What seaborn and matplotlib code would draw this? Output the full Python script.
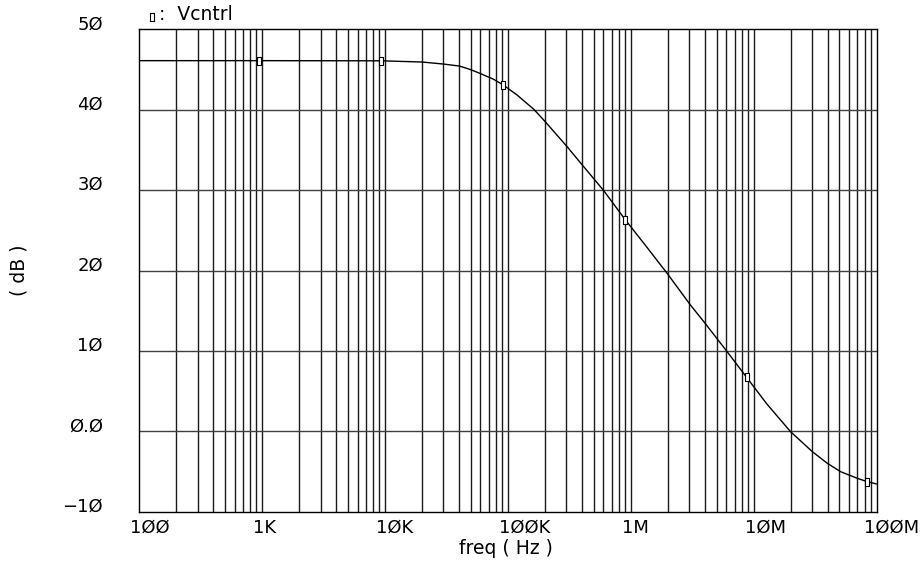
import matplotlib
matplotlib.use("Agg")
import matplotlib.pyplot as plt
import matplotlib.transforms as mtransforms
from matplotlib.ticker import FixedLocator, NullFormatter
import seaborn as sns
import pandas as pd

# ---- data ----
freq_hz = [100, 948, 9.35e3, 2.01e4, 2.99e4, 4.04e4, 4.96e4, 5.98e4, 7.63e4, 9.2e4,
           1.19e5, 1.63e5, 2.02e5, 3.04e5, 4.15e5, 6.04e5, 9.07e5, 1.28e6, 1.98e6,
           3.07e6, 3.94e6, 6.03e6, 8.77e6, 1.29e7, 2.0e7, 3.01e7, 3.98e7, 5.1e7,
           6.98e7, 8.43e7, 1.0e8]
gain_db = [46.1, 46.1, 46.08, 45.93, 45.68, 45.43, 45.0, 44.5, 43.8, 43.07,
           41.83, 40.05, 38.5, 35.40, 32.91, 29.93, 26.28, 23.38, 19.65,
           15.69, 13.63, 9.99, 6.72, 3.35, -0.05, -2.54, -3.98, -5.02,
           -5.85, -6.27, -6.55]
marker_freq = [948, 9.35e3, 9.2e4, 9.07e5, 8.77e6, 8.43e7]
marker_db = [46.1, 46.08, 43.07, 26.28, 6.72, -6.27]

x_ticks = [1e2, 1e3, 1e4, 1e5, 1e6, 1e7, 1e8]
x_tick_labels = ["1ØØ", "1K", "1ØK", "1ØØK", "1M", "1ØM", "1ØØM"]
y_ticks = [-10, 0, 10, 20, 30, 40, 50]
y_tick_labels = ["\u22121Ø", "Ø.Ø", "1Ø", "2Ø", "3Ø", "4Ø", "5Ø"]
series_name = "Vcntrl"
x_label = "freq ( Hz )"
y_label = "( dB )"

sns.set_style("white")
plt.rcParams["font.family"] = ["DejaVu Sans"]
FS = 13.5
TFS = 13

fig = plt.figure(figsize=(9.24, 5.65), dpi=100)
ax = fig.add_axes([139 / 924, 1 - 511.7 / 565, (876.5 - 139) / 924, (511.7 - 29.3) / 565])

df = pd.DataFrame({"freq": freq_hz, "gain": gain_db})
mk = pd.DataFrame({"freq": marker_freq, "gain": marker_db})

ax.set_xscale("log")
ax.set_xlim(1e2, 1e8)
ax.set_ylim(-10, 50)

# grid: vertical at every 1..9 x decade, horizontal at major ticks
minor_x = [m * 10 ** d for d in range(2, 8) for m in range(2, 10)]
for xv in x_ticks[1:-1] + minor_x:
    ax.axvline(xv, color="#1a1a1a", lw=1.0, zorder=1)
for yv in y_ticks[1:-1]:
    ax.axhline(yv, color="#404040", lw=1.0, zorder=1)

sns.lineplot(data=df, x="freq", y="gain", ax=ax, color="black", lw=1.0,
             sort=False, zorder=3, legend=False)
rect = [(-1, -2.3), (1, -2.3), (1, 2.3), (-1, 2.3), (-1, -2.3)]
ax.plot(mk["freq"], mk["gain"], ls="none", marker=rect, ms=6, mfc="white",
        mec="black", mew=0.8, zorder=4)

# ticks
ax.xaxis.set_major_locator(FixedLocator(x_ticks))
ax.set_xticklabels(x_tick_labels)
ax.xaxis.set_minor_locator(FixedLocator([]))
ax.xaxis.set_minor_formatter(NullFormatter())
ax.tick_params(axis="x", which="both", length=0, pad=5, labelsize=TFS, labelcolor="black")
xlabs = ax.get_xticklabels()
for i, lab in enumerate(xlabs):
    lab.set_horizontalalignment("left")
    shift = -13 if i == len(xlabs) - 1 else -9
    lab.set_transform(lab.get_transform() +
                      mtransforms.ScaledTranslation(shift / 100, 0, fig.dpi_scale_trans))

ax.yaxis.set_major_locator(FixedLocator(y_ticks))
ax.set_yticklabels(y_tick_labels)
ax.yaxis.set_minor_locator(FixedLocator([v for v in range(-10, 51) if v % 10 != 0]))
ax.tick_params(axis="y", which="major", length=0, pad=26, labelsize=TFS, labelcolor="black")
ax.tick_params(axis="y", which="minor", direction="in", length=4, width=0.8, color="black")
for lab in ax.get_yticklabels():
    lab.set_verticalalignment("baseline")

for s in ax.spines.values():
    s.set_color("black")
    s.set_linewidth(1.0)
    s.set_visible(True)

ax.set_xlabel("")
ax.set_ylabel("")
fig.text(506 / 924, 1 - 549 / 565, x_label, ha="center", va="center",
         fontsize=FS, color="black")
fig.text(19 / 924, 1 - 270 / 565, y_label, ha="center", va="center",
         rotation=90, fontsize=FS, color="black")

# legend-like label at top
fig.lines.append(plt.Line2D([152 / 924], [1 - 16.5 / 565], transform=fig.transFigure,
                            ls="none", marker=rect, ms=6, mfc="white", mec="black", mew=0.8))
fig.text(159 / 924, 1 - 20 / 565, ":  " + series_name, ha="left", va="baseline",
         fontsize=FS, color="black")

fig.savefig("out.png", dpi=100)
